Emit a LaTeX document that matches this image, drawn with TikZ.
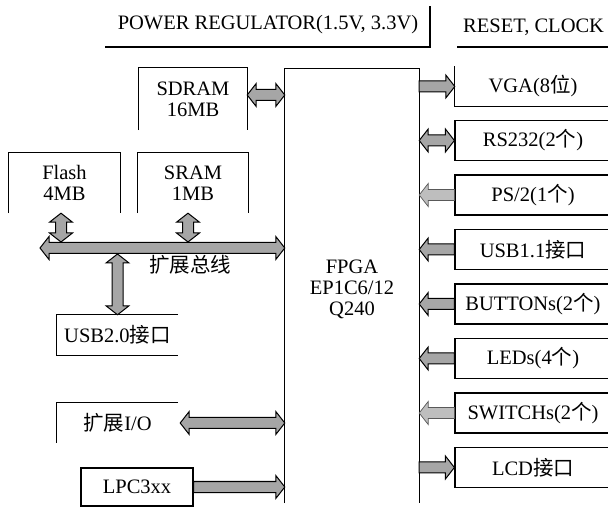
\documentclass[tikz,border=0pt]{standalone}
\usepackage{fontspec}
\setmainfont{Liberation Serif}
\newfontfamily\cjk{Noto Sans CJK SC}
\usetikzlibrary{calc}
\definecolor{arrowgray}{HTML}{A6A6A6}
\definecolor{arrowlight}{HTML}{BEBEBE}
\tikzset{
  lbl/.style={font=\fontsize{20.5}{21}\selectfont, inner sep=0pt, align=center},
  rbox/.style={lbl, draw, line width=1.2pt, minimum width=156pt, minimum height=40pt},
  outline/.style={line width=1.2pt},
  blockarrow/.style={draw=black, fill=arrowgray, line width=1pt, line join=miter},
  lightarrow/.style={draw=black!65, fill=arrowlight, line width=0.7pt},
}
% single block arrow from #2 to #3 (tip at #3)
\newcommand\sarrow[3][]{%
  \path[blockarrow,#1] let \p1=#2, \p2=#3,
    \n1={atan2(\y2-\y1,\x2-\x1)}, \n2={veclen(\x2-\x1,\y2-\y1)} in
    [shift={(\p1)}, rotate=\n1, x=1pt, y=1pt]
    (0,-5.5) -- ({\n2-9},-5.5) -- ({\n2-9},-11.5) -- (\n2,0) --
    ({\n2-9},11.5) -- ({\n2-9},5.5) -- (0,5.5) -- cycle;}
% double block arrow between #2 and #3
\newcommand\darrow[3][]{%
  \path[blockarrow,#1] let \p1=#2, \p2=#3,
    \n1={atan2(\y2-\y1,\x2-\x1)}, \n2={veclen(\x2-\x1,\y2-\y1)} in
    [shift={(\p1)}, rotate=\n1, x=1pt, y=1pt]
    (0,0) -- (9,11.5) -- (9,5.5) -- ({\n2-9},5.5) -- ({\n2-9},11.5) -- (\n2,0) --
    ({\n2-9},-11.5) -- ({\n2-9},-5.5) -- (9,-5.5) -- (9,-11.5) -- cycle;}
\begin{document}
\begin{tikzpicture}[x=1pt, y=-1pt]
\useasboundingbox[fill=white] (0,0) rectangle (608,510);

% top labels
\node[lbl] (power) at (268,25) {POWER REGULATOR(1.5V, 3.3V)};
\draw[outline] (105,47) -- (430,47) -- (430,6);
\node[lbl, anchor=west] (reset) at (463,27) {RESET, CLOCK};
\draw[outline] (457,47) -- (612,47);

% FPGA
\node[lbl, minimum width=134pt, minimum height=434pt] (fpga) at (352,286) {};
\draw[outline] (fpga.south west) -- (fpga.north west) -- (fpga.north east) -- (fpga.south east);
\node[lbl, align=center] (fpgalbl) at ([yshift=-3pt]fpga.center) {FPGA\\EP1C6/12\\Q240};

% left side
\node[lbl, minimum width=108pt, minimum height=62pt] (sdram) at (193,99) {SDRAM\\16MB};
\draw[outline] (sdram.south west) -- (sdram.north west) -- (sdram.north east) -- (sdram.south east);
\coordinate (sdA) at ([yshift=4pt]sdram.east);
\node[lbl, minimum width=111pt, minimum height=60pt] (flash) at (64.5,183) {Flash\\4MB};
\draw[outline] (flash.south west) -- (flash.north west) -- (flash.north east) -- (flash.south east);
\coordinate (flA) at ([xshift=-3.5pt]flash.south);
\node[lbl, minimum width=110pt, minimum height=60pt] (sram) at (193,183) {SRAM\\1MB};
\draw[outline] (sram.south west) -- (sram.north west) -- (sram.north east) -- (sram.south east);
\coordinate (srA) at ([xshift=-5pt]sram.south);

\coordinate (busL) at (40,248);
\coordinate (busT) at (0,242);
\coordinate (busB) at (0,254);
\node[lbl] (buslbl) at (190,265) {\cjk 扩展总线};

\node[lbl, minimum width=121pt, minimum height=40pt] (usb2) at (117.5,335) {USB2.0{\cjk 接口}};
\draw[outline] (usb2.north east) -- (usb2.north west) -- (usb2.south west) -- (usb2.south east);
\node[lbl, minimum width=121pt, minimum height=40pt] (kzio) at (117.5,423) {{\cjk 扩展}I/O};
\draw[outline] (kzio.north east) -- (kzio.north west) -- (kzio.south west);
\coordinate (kzA) at ([xshift=2pt]kzio.east);
\node[lbl, draw, line width=1.2pt, minimum width=112pt, minimum height=38pt] (lpc) at (137,487) {LPC3xx};

% right side
\node[lbl, minimum width=156pt, minimum height=40pt] (vga) at (533,86.5) {VGA(8{\cjk 位})};
\draw[outline] (vga.north west) -- (vga.south west) -- (vga.south east);
\node[rbox] (rs232) at (533,140.5) {RS232(2{\cjk 个})};
\node[rbox] (ps2) at (533,195) {PS/2(1{\cjk 个})};
\node[rbox] (usb1) at (533,249.5) {USB1.1{\cjk 接口}};
\node[rbox] (btn) at (533,304) {BUTTONs(2{\cjk 个})};
\node[rbox] (led) at (533,358.5) {LEDs(4{\cjk 个})};
\node[rbox] (sw) at (533,413) {SWITCHs(2{\cjk 个})};
\node[rbox] (lcd) at (533,467.5) {LCD{\cjk 接口}};

% connectors, left
\darrow{(sdA)}{(fpga.west |- sdA)}
\darrow{(busL)}{(fpga.west |- busL)}
\darrow{(flA)}{(flA |- busT)}
\darrow{(srA)}{(srA |- busT)}
\darrow{(usb2.north |- busB)}{(usb2.north)}
\darrow{(kzA)}{(fpga.west |- kzA)}
\sarrow{(lpc.east)}{(fpga.west |- lpc.east)}

% connectors, right
\sarrow{(fpga.east |- vga.west)}{(vga.west)}
\darrow{(fpga.east |- rs232.west)}{(rs232.west)}
\sarrow[lightarrow]{(ps2.west)}{(fpga.east |- ps2.west)}
\sarrow{(usb1.west)}{(fpga.east |- usb1.west)}
\sarrow{(btn.west)}{(fpga.east |- btn.west)}
\sarrow{(led.west)}{(fpga.east |- led.west)}
\sarrow[lightarrow]{(sw.west)}{(fpga.east |- sw.west)}
\sarrow{(fpga.east |- lcd.west)}{(lcd.west)}
\end{tikzpicture}
\end{document}
